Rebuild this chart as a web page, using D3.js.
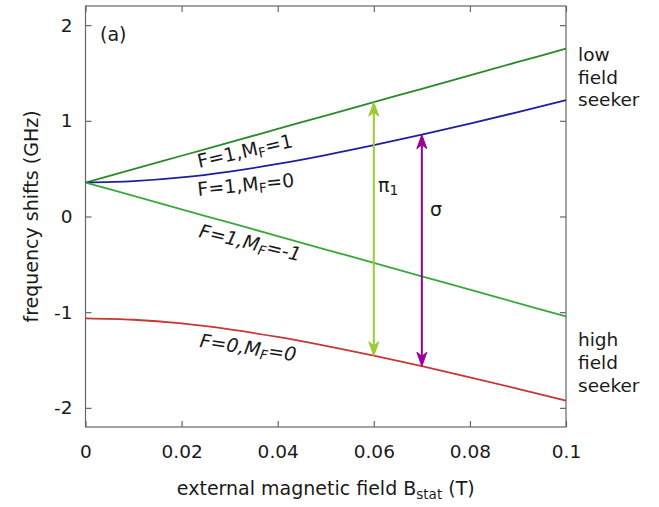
<!DOCTYPE html>
<html>
<head>
<meta charset="utf-8">
<script src="https://cdn.jsdelivr.net/npm/d3@7"></script>
<style>
  body { margin: 0; background: #fff; }
  svg { display: block; }
  text { font-family: "DejaVu Sans", Verdana, sans-serif; fill: #1a1a1a; }
</style>
</head>
<body>
<svg id="chart" width="659" height="507"></svg>
<script>
// Hydrogen ground-state hyperfine levels vs. static magnetic field (Breit-Rabi)
const fieldT   = [0, 0.01, 0.02, 0.03, 0.04, 0.05, 0.06, 0.07, 0.08, 0.09, 0.1];
const levelF1M1  = [0.355, 0.495, 0.635, 0.775, 0.915, 1.055, 1.195, 1.335, 1.475, 1.615, 1.755];
const levelF1M0  = [0.355, 0.369, 0.408, 0.470, 0.549, 0.642, 0.745, 0.855, 0.971, 1.091, 1.215];
const levelF1Mm1 = [0.355, 0.215, 0.075, -0.065, -0.205, -0.345, -0.485, -0.625, -0.765, -0.905, -1.045];
const levelF0M0  = [-1.065, -1.079, -1.118, -1.180, -1.259, -1.352, -1.455, -1.565, -1.681, -1.801, -1.925];

const xTicks = [0, 0.02, 0.04, 0.06, 0.08, 0.1];
const xTickLabels = ["0", "0.02", "0.04", "0.06", "0.08", "0.1"];
const yTicks = [-2, -1, 0, 1, 2];
const yTickLabels = ["-2", "-1", "0", "1", "2"];

// RF transitions drawn as double arrows between levels
const transitionNames = ["π", "σ"];
const transitionSubs  = ["1", ""];
const transitionField = [0.06, 0.07];
const transitionLower = [-1.455, -1.565];
const transitionUpper = [1.195, 0.855];

const svg = d3.select("#chart");
const plotL = 85.5, plotR = 566, plotT = 6, plotB = 427;
const FS = 19;

const x = d3.scaleLinear().domain([0, 0.1]).range([plotL, plotR]);
const y = d3.scaleLinear().domain([-2.2, 2.2]).range([plotB, plotT]);

// Frame
svg.append("rect")
  .attr("x", plotL).attr("y", plotT)
  .attr("width", plotR - plotL).attr("height", plotB - plotT)
  .attr("fill", "none").attr("stroke", "#666").attr("stroke-width", 1.2);

function styleAxis(g, hideText) {
  g.select(".domain").remove();
  g.selectAll(".tick line").attr("stroke", "#666").attr("stroke-width", 1.2);
  g.selectAll(".tick text").attr("font-size", 18.5).attr("fill", "#1a1a1a")
    .attr("font-family", "DejaVu Sans, Verdana, sans-serif");
  if (hideText) g.selectAll(".tick text").remove();
}

const xFmt = d => xTickLabels[xTicks.indexOf(d)];
const yFmt = d => yTickLabels[yTicks.indexOf(d)];

svg.append("g").attr("transform", `translate(0,${plotB})`)
  .call(d3.axisBottom(x).tickValues(xTicks).tickFormat(xFmt).tickSize(-6).tickPadding(18))
  .call(g => styleAxis(g, false));
svg.append("g").attr("transform", `translate(0,${plotT})`)
  .call(d3.axisTop(x).tickValues(xTicks).tickFormat(xFmt).tickSize(-6))
  .call(g => styleAxis(g, true));
svg.append("g").attr("transform", `translate(${plotL},0)`)
  .call(d3.axisLeft(y).tickValues(yTicks).tickFormat(yFmt).tickSize(-6).tickPadding(13))
  .call(g => styleAxis(g, false));
svg.append("g").attr("transform", `translate(${plotR},0)`)
  .call(d3.axisRight(y).tickValues(yTicks).tickFormat(yFmt).tickSize(-6))
  .call(g => styleAxis(g, true));

// Energy level curves
const line = d3.line().x(d => x(d[0])).y(d => y(d[1])).curve(d3.curveMonotoneX);
const series = [
  { v: levelF1M1,  color: "#2a8a2a" },
  { v: levelF1M0,  color: "#1f1f9e" },
  { v: levelF1Mm1, color: "#3aa83a" },
  { v: levelF0M0,  color: "#c83636" }
];
series.forEach(s => {
  svg.append("path")
    .datum(fieldT.map((b, i) => [b, s.v[i]]))
    .attr("d", line)
    .attr("fill", "none")
    .attr("stroke", s.color)
    .attr("stroke-width", 1.8);
});

// Transition arrows with heads at both ends
const arrowColors = ["#9acd32", "#990099"];
function head(xp, yp, dir, color) {
  // dir = -1: pointing up, +1: pointing down
  const L = 14, W = 5, N = 10;
  const p = [
    [xp, yp],
    [xp - W, yp - dir * L],
    [xp, yp - dir * N],
    [xp + W, yp - dir * L]
  ];
  svg.append("path").attr("d", "M" + p.join("L") + "Z").attr("fill", color).attr("stroke", color).attr("stroke-width", 1);
}
transitionField.forEach((b, i) => {
  const xp = x(b), y1 = y(transitionUpper[i]), y2 = y(transitionLower[i]);
  svg.append("line")
    .attr("x1", xp).attr("x2", xp).attr("y1", y1 + 8).attr("y2", y2 - 8)
    .attr("stroke", arrowColors[i]).attr("stroke-width", 2);
  head(xp, y1, -1, arrowColors[i]);
  head(xp, y2, 1, arrowColors[i]);
});

// Transition labels
const tLabelPos = [[378, 192], [430, 216]];
transitionNames.forEach((n, i) => {
  const t = svg.append("text").attr("x", tLabelPos[i][0]).attr("y", tLabelPos[i][1]).attr("font-size", FS);
  t.append("tspan").text(n);
  if (transitionSubs[i]) t.append("tspan").attr("font-size", 14).attr("dy", 3).text(transitionSubs[i]);
});

// Level labels along the curves
function levelLabel(px, py, angle, italic, pre, mf) {
  const t = svg.append("text")
    .attr("transform", `translate(${px},${py}) rotate(${angle})`)
    .attr("font-size", FS)
    .attr("font-style", italic ? "italic" : "normal");
  t.append("tspan").text(pre + "M");
  t.append("tspan").attr("font-size", 13.5).attr("dy", 3).text("F");
  t.append("tspan").attr("dy", -3).text("=" + mf);
}
levelLabel(199, 168, -12.5, false, "F=1,", "1");
levelLabel(198, 196, -5.5, false, "F=1,", "0");
levelLabel(198, 237, 13.5, true, "F=1,", "-1");
levelLabel(199, 347, 8.5, true, "F=0,", "0");

// Panel tag
svg.append("text").attr("x", 100).attr("y", 41).attr("font-size", FS).text("(a)");

// Side labels
const sideLow = ["low", "field", "seeker"];
const sideHigh = ["high", "field", "seeker"];
sideLow.forEach((s, i) => svg.append("text").attr("x", 578).attr("y", 61 + i * 22.5).attr("font-size", 18.5).text(s));
sideHigh.forEach((s, i) => svg.append("text").attr("x", 578).attr("y", 346 + i * 23).attr("font-size", 18.5).text(s));

// Axis titles
const xt = svg.append("text").attr("x", (plotL + plotR) / 2).attr("y", 495)
  .attr("text-anchor", "middle").attr("font-size", FS);
xt.append("tspan").text("external magnetic field B");
xt.append("tspan").attr("font-size", 13.5).attr("dy", 4).text("stat");
xt.append("tspan").attr("dy", -4).text(" (T)");

svg.append("text")
  .attr("transform", `translate(38,${(plotT + plotB) / 2}) rotate(-90)`)
  .attr("text-anchor", "middle").attr("font-size", FS)
  .text("frequency shifts (GHz)");
</script>
</body>
</html>
